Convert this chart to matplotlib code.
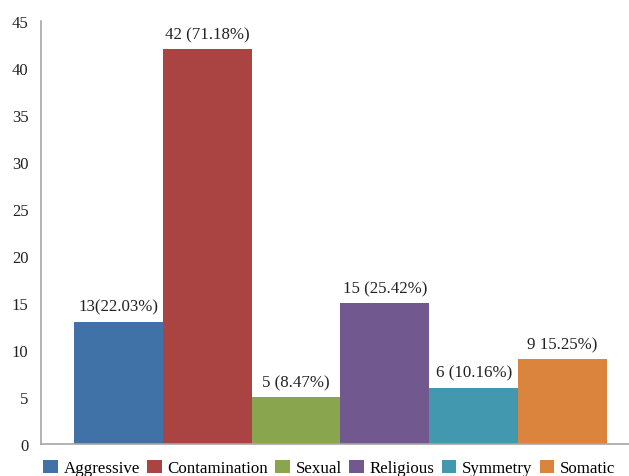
import matplotlib
matplotlib.use("Agg")
import matplotlib.pyplot as plt
from matplotlib.patches import Patch

categories = ["Aggressive", "Contamination", "Sexual", "Religious", "Symmetry", "Somatic"]
values = [13, 42, 5, 15, 6, 9]
labels = ["13(22.03%)", "42 (71.18%)", "5 (8.47%)", "15 (25.42%)", "6 (10.16%)", "9 15.25%)"]
colors = ["#4172A7", "#AA4442", "#89A54E", "#71588F", "#4198AF", "#DB843D"]
yticks = [0, 5, 10, 15, 20, 25, 30, 35, 40, 45]

plt.rcParams['font.family'] = 'serif'
plt.rcParams['font.serif'] = ['Liberation Serif', 'Times New Roman', 'DejaVu Serif']

fig = plt.figure(figsize=(6.29, 4.77), dpi=100)
ax = fig.add_axes([41/629, 1-445/477, 1-41/629, (445-22)/477])

x = list(range(len(categories)))
bars = ax.bar(x, values, width=1.0, color=colors, align='edge')
for b, lab in zip(bars, labels):
    ax.annotate(lab, (b.get_x() + b.get_width()/2, b.get_height()),
                xytext=(0, 5), textcoords='offset points', ha='center', va='bottom',
                fontsize=12.2, color='#222222')

ax.set_ylim(0, 45)
ax.set_yticks(yticks)
ax.set_xlim(-33/89, 6 + 22/89)
ax.set_xticks([])
ax.tick_params(axis='y', length=0, labelsize=12, pad=9, colors='#222222')
for s in ['top', 'right']:
    ax.spines[s].set_visible(False)
for s in ['left', 'bottom']:
    ax.spines[s].set_color('#A6A6A6')
    ax.spines[s].set_linewidth(1.2)

handles = [Patch(facecolor=c, edgecolor='none') for c in colors]
fig.legend(handles, categories, loc='center left', bbox_to_anchor=(43/629, 1-469/477),
           ncol=6, frameon=False, fontsize=12.2, handlelength=0.86, handleheight=0.86,
           handletextpad=0.35, columnspacing=0.42, borderpad=0, borderaxespad=0)

fig.savefig("out.png", dpi=100)
